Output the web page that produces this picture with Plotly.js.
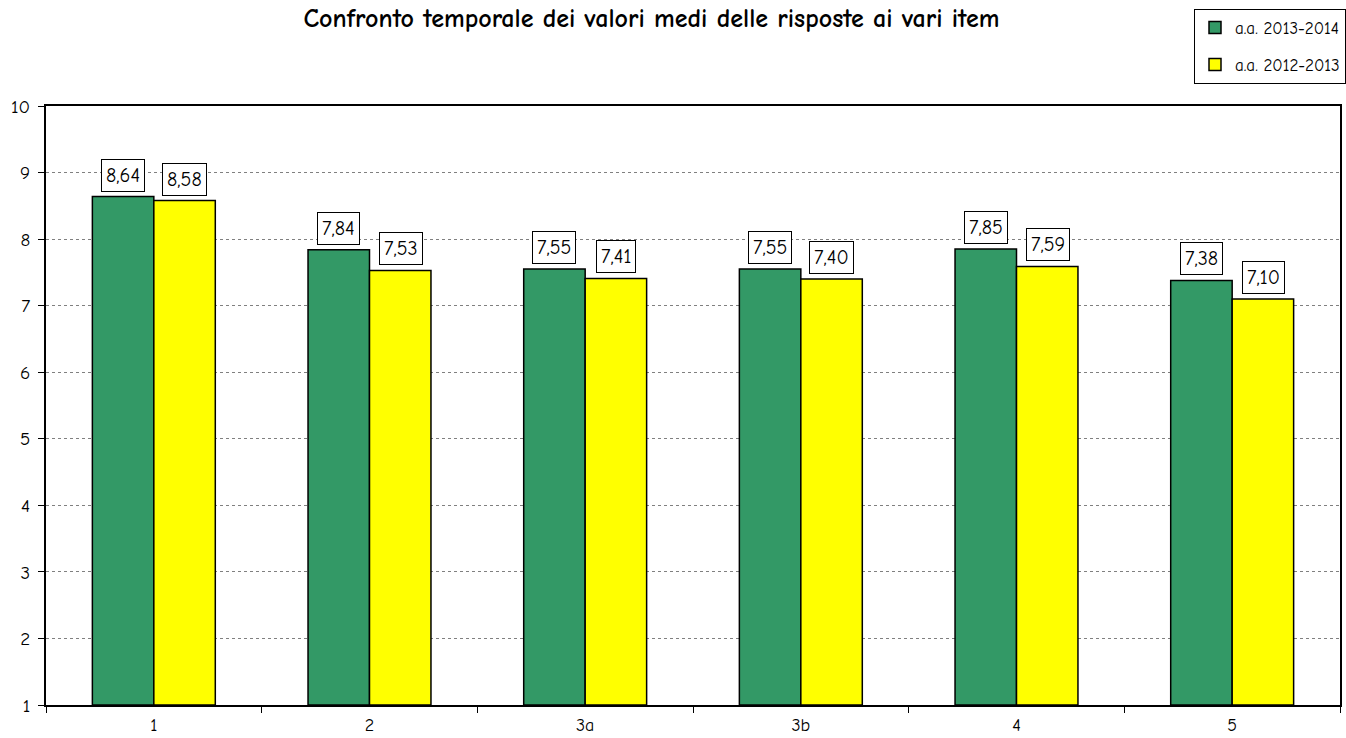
<!DOCTYPE html>
<html>
<head>
<meta charset="utf-8">
<script src="https://cdn.plot.ly/plotly-3.0.1.min.js"></script>
<style>html,body{margin:0;padding:0;background:#fff;}#chart{width:1346px;height:738px;}</style>
</head>
<body>
<div id="chart"></div>
<script>
var categories = ['1', '2', '3a', '3b', '4', '5'];
var series2013_2014 = [8.64, 7.84, 7.55, 7.55, 7.85, 7.38];
var series2012_2013 = [8.58, 7.53, 7.41, 7.40, 7.59, 7.10];
var seriesNames = ['a.a. 2013-2014', 'a.a. 2012-2013'];
var yTicks = [1, 2, 3, 4, 5, 6, 7, 8, 9, 10];

var FONT = 'Comic Sans MS, Comic Neue, Open Sans, sans-serif';
function fmt(v) { return v.toFixed(2).replace('.', ','); }

var traces = [
  {type: 'bar', name: seriesNames[0], x: categories, y: series2013_2014.map(function(v){return v - 1;}), base: 1,
   marker: {color: '#339966', line: {color: '#000', width: 1.5}}, legendgroup: 'a', hoverinfo: 'none'},
  {type: 'bar', name: seriesNames[1], x: categories, y: series2012_2013.map(function(v){return v - 1;}), base: 1,
   marker: {color: '#FFFF00', line: {color: '#000', width: 1.5}}, legendgroup: 'b', hoverinfo: 'none'}
];

var annotations = [];
[series2013_2014, series2012_2013].forEach(function(arr, s) {
  arr.forEach(function(v, i) {
    annotations.push({
      x: i, y: v, xref: 'x', yref: 'y',
      xshift: s === 0 ? -31 : 31, yshift: 5,
      yanchor: 'bottom', xanchor: 'center',
      text: fmt(v), showarrow: false,
      font: {family: FONT, size: 20, color: '#000'},
      bgcolor: '#fff', bordercolor: '#000', borderwidth: 1, borderpad: 4
    });
  });
});

var layout = {
  width: 1346, height: 738,
  margin: {l: 46, r: 6, t: 106, b: 33, autoexpand: false},
  paper_bgcolor: '#fff', plot_bgcolor: '#fff',
  font: {family: FONT, size: 19, color: '#000'},
  title: {text: '<b>Confronto temporale dei valori medi delle risposte ai vari item</b>',
          x: 0.484, xref: 'container', xanchor: 'center', y: 0.988, yref: 'container', yanchor: 'top',
          font: {family: FONT, size: 26, color: '#000'}},
  barmode: 'group', bargap: 0.43, bargroupgap: 0,
  showlegend: true,
  legend: {x: 1.003, xref: 'container', xanchor: 'right', y: 0.988, yref: 'container', yanchor: 'top',
           bordercolor: '#000', borderwidth: 1, bgcolor: '#fff',
           font: {family: FONT, size: 17, color: '#000'},
           traceorder: 'grouped', tracegroupgap: 12, itemwidth: 30},
  xaxis: {type: 'category', showline: true, linecolor: '#000', linewidth: 2, mirror: true,
          ticks: 'outside', tickson: 'boundaries', ticklen: 6, tickcolor: '#000',
          ticklabelstandoff: 2,
          showgrid: false, tickfont: {family: FONT, size: 18}, fixedrange: true},
  yaxis: {range: [1, 10], tickvals: yTicks, ticktext: yTicks.map(String),
          showline: true, linecolor: '#000', linewidth: 2, mirror: true,
          ticks: 'outside', ticklen: 6, tickcolor: '#000',
          ticklabelstandoff: 4,
          showgrid: true, gridcolor: '#808080', griddash: 'dot', gridwidth: 1,
          zeroline: false, tickfont: {family: FONT, size: 19}, fixedrange: true},
  annotations: annotations
};

Plotly.newPlot('chart', traces, layout, {displayModeBar: false, staticPlot: true});
</script>
</body>
</html>
